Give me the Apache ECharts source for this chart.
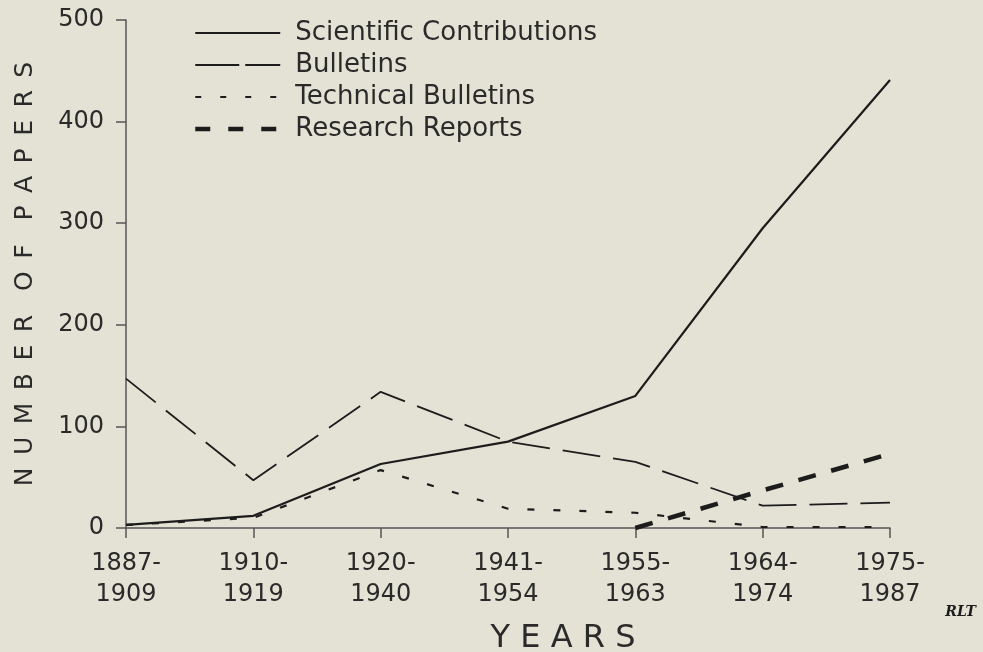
<!DOCTYPE html>
<html>
<head>
<meta charset="utf-8">
<title>Number of papers by years</title>
<script src="https://cdn.jsdelivr.net/npm/echarts@6/dist/echarts.min.js"></script>
<style>
  html, body { margin: 0; padding: 0; background: #e4e2d4; }
  #chart { width: 983px; height: 652px; }
</style>
</head>
<body>
<div id="chart"></div>
<script>
// periods on the x axis
var years = ['1887-\n1909', '1910-\n1919', '1920-\n1940', '1941-\n1954', '1955-\n1963', '1964-\n1974', '1975-\n1987']
// number of papers per period
var scientificContributions = [3, 12, 63, 85, 130, 295, 441]
var bulletins = [147, 47, 134, 85, 65, 22, 25]
var technicalBulletins = [3, 10, 57, 19, 15, 1, 1]
var researchReports = [null, null, null, null, 0, 37, 73]
var yTicks = [0, 100, 200, 300, 400, 500]

var ink = '#1c1c1c'
var textInk = '#2a2a2a'
var font = 'DejaVu Sans'
// letter-spaced axis titles
var gap = '\u2002'
var yName = ['NUMBER', 'OF', 'PAPERS'].map(function (w) { return w.split('').join(gap) }).join('   ')

var chart = echarts.init(document.getElementById('chart'))

var option = {
  backgroundColor: '#e4e2d4',
  animation: false,
  textStyle: { fontFamily: font, color: textInk },
  grid: { left: 126, right: 93, top: 20, bottom: 124, containLabel: false, outerBoundsMode: 'none' },
  legend: {
    orient: 'vertical',
    left: 193,
    top: 19,
    padding: 0,
    itemWidth: 85,
    itemHeight: 14,
    itemGap: 4,
    selectedMode: false,
    itemStyle: { opacity: 0 },
    lineStyle: { width: 'inherit' },
    textStyle: { fontFamily: font, fontSize: 26, color: textInk, lineHeight: 28, padding: [0, 0, 0, 10] },
    data: [
      { name: 'Scientific Contributions' },
      { name: 'Bulletins', lineStyle: { type: [44, 6], width: 2.2 } },
      { name: 'Technical Bulletins', lineStyle: { type: [6, 19] } },
      { name: 'Research Reports', lineStyle: { type: [15, 18] } }
    ]
  },
  xAxis: {
    type: 'category',
    data: years,
    boundaryGap: false,
    axisLine: { lineStyle: { color: '#555', width: 1.5 } },
    axisTick: { alignWithLabel: true, length: 10, lineStyle: { color: '#555', width: 1.5 } },
    axisLabel: { fontFamily: font, fontSize: 24, color: textInk, lineHeight: 31, margin: 20 },
    name: 'Y E A R S',
    nameLocation: 'middle',
    nameGap: 95,
    nameTextStyle: { fontFamily: font, fontSize: 32, color: textInk, padding: [0, 0, 0, 110] }
  },
  yAxis: {
    type: 'value',
    min: 0,
    max: 500,
    interval: 100,
    splitLine: { show: false },
    axisLine: { show: true, lineStyle: { color: '#555', width: 1.5 } },
    axisTick: { show: true, length: 10, lineStyle: { color: '#555', width: 1.5 } },
    axisLabel: {
      fontFamily: font, fontSize: 24, color: textInk, margin: 22,
      formatter: function (v) { return yTicks.indexOf(v) >= 0 ? String(v) : '' }
    },
    name: yName,
    nameLocation: 'middle',
    nameRotate: 90,
    nameGap: 88,
    nameTextStyle: { fontFamily: font, fontSize: 25, color: textInk }
  },
  graphic: [{
    type: 'text',
    right: 7,
    top: 605,
    style: { text: 'RLT', font: 'italic bold 14px "DejaVu Serif"', fill: ink }
  }],
  series: [{
    name: 'Scientific Contributions',
    type: 'line',
    data: scientificContributions,
    symbol: 'none',
    lineStyle: { color: ink, width: 2.2, type: 'solid' },
    itemStyle: { color: ink }
  }, {
    name: 'Bulletins',
    type: 'line',
    data: bulletins,
    symbol: 'none',
    lineStyle: { color: ink, width: 1.8, type: [38, 13] },
    itemStyle: { color: ink }
  }, {
    name: 'Technical Bulletins',
    type: 'line',
    data: technicalBulletins,
    symbol: 'none',
    lineStyle: { color: ink, width: 2.2, type: [7, 19] },
    itemStyle: { color: ink }
  }, {
    name: 'Research Reports',
    type: 'line',
    data: researchReports,
    symbol: 'none',
    lineStyle: { color: ink, width: 4.5, type: [18, 16] },
    itemStyle: { color: ink }
  }]
}

chart.setOption(option)
</script>
</body>
</html>
